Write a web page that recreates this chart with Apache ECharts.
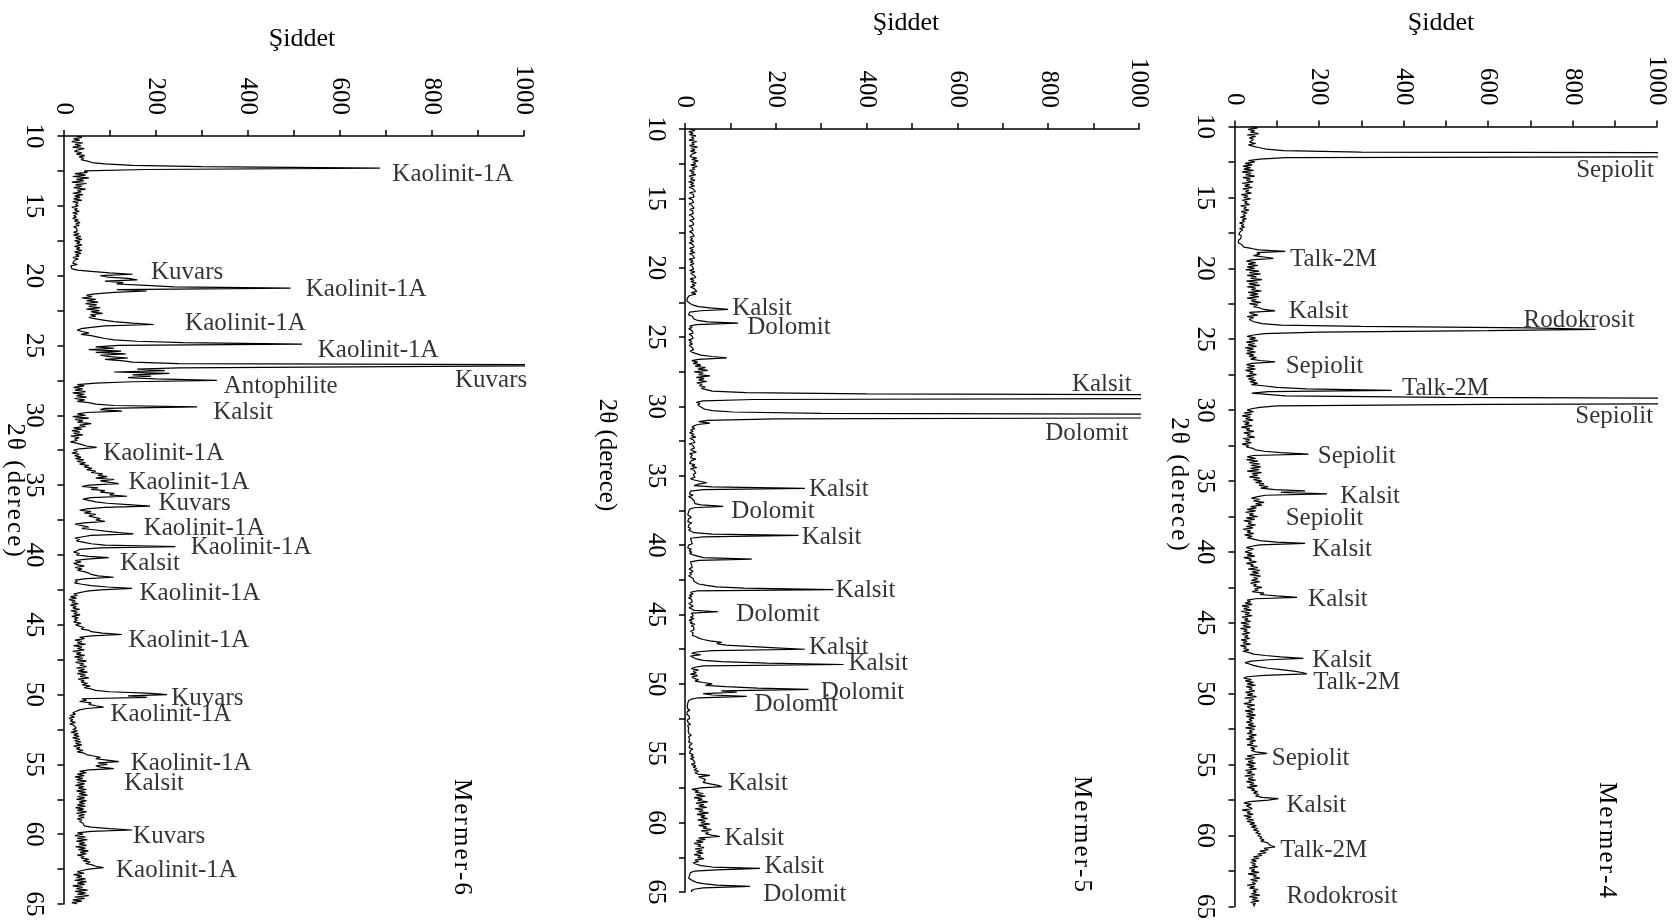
<!DOCTYPE html>
<html>
<head>
<meta charset="utf-8">
<title>Mermer XRD desenleri</title>
<script src="https://cdn.jsdelivr.net/npm/echarts@6.0.0/dist/echarts.min.js"></script>
<style>
  html, body { margin: 0; padding: 0; background: #fff; }
  #chart { width: 1675px; height: 922px; }
</style>
</head>
<body>
<div id="chart"></div>
<script>
// Scan grid shared by all three samples: 2θ from 10° to 65° in 0.1° steps.
const SCAN_START = 10;
const SCAN_STEP = 0.1;

// Counts per scan step, one row per degree (10.0–10.9, 11.0–11.9, ... , 65.0).
const mermer6 = [
  28,40,22,35,18,42,25,38,20,45,
  30,24,40,28,46,34,44,38,52,62,
  90,150,300,687,180,45,52,25,48,20,
  55,28,44,18,50,26,40,22,48,30,
  38,20,42,24,36,22,40,20,32,26,
  32,18,30,24,34,20,30,22,28,20,
  32,24,36,26,34,22,28,24,30,22,
  34,22,38,26,40,24,36,28,40,24,
  36,28,40,24,38,26,34,20,32,24,
  28,20,30,16,14,18,30,60,100,150,
  80,95,140,160,90,130,115,180,240,493,
  116,181,110,69,50,62,40,70,50,75,
  48,72,55,80,50,78,60,85,58,70,
  55,70,90,110,150,196,90,60,38,30,
  40,55,38,60,75,90,110,160,260,518,
  120,70,110,55,125,70,135,80,100,140,
  90,130,150,250,1300,1300,250,160,220,110,
  230,150,190,140,200,333,150,70,30,45,
  22,42,25,48,20,45,28,50,24,46,
  30,55,70,110,290,90,80,127,50,30,
  48,20,55,25,42,30,60,35,48,22,
  40,18,36,22,42,16,34,24,30,15,
  28,40,50,72,35,22,30,18,34,24,
  38,26,44,30,48,35,55,45,62,50,
  70,60,85,75,95,70,110,80,100,120,
  55,40,75,60,90,80,110,100,138,60,
  42,55,70,95,140,188,90,50,35,60,
  45,70,55,65,80,70,90,45,25,40,
  55,40,65,90,120,152,60,42,25,35,
  28,45,60,90,243,80,35,30,22,35,
  28,55,98,50,25,38,22,30,45,25,
  40,30,45,55,60,75,109,50,25,30,
  24,40,60,95,149,80,50,35,22,30,
  15,28,12,26,18,32,15,28,20,35,
  16,30,22,36,18,32,24,30,22,38,
  26,34,45,38,55,60,85,127,60,35,
  45,25,40,30,48,22,40,30,45,20,
  38,28,46,24,42,30,50,26,44,35,
  50,28,46,32,52,30,48,36,55,32,
  45,38,52,40,58,45,60,70,100,181,
  225,140,181,40,50,35,60,55,70,87,
  50,35,28,20,26,14,24,12,20,15,
  26,14,22,18,28,20,30,16,32,22,
  34,20,36,24,38,26,40,22,36,28,
  42,30,45,50,65,80,70,95,120,75,
  95,70,80,109,55,35,50,30,45,25,
  42,28,50,30,46,26,44,32,50,28,
  48,34,52,30,46,28,50,34,46,30,
  48,26,44,30,50,28,46,32,45,30,
  40,35,42,38,45,60,100,149,60,30,
  42,25,48,30,52,28,46,34,50,26,
  48,32,54,36,50,30,45,38,55,42,
  58,48,62,70,87,55,40,30,45,22,
  40,28,48,24,50,30,46,20,42,28,
  52,25,48,30,55,24,46,20,40,18,
  30
];

const mermer5 = [
  12,22,8,18,10,24,14,20,9,26,
  15,21,10,28,14,22,12,25,16,20,
  11,26,15,29,18,24,13,27,16,22,
  10,20,14,24,9,18,12,22,8,19,
  12,21,9,17,13,23,10,18,14,20,
  8,16,12,19,9,15,11,20,10,17,
  13,18,9,16,12,20,10,17,14,19,
  9,15,12,18,10,16,13,20,11,17,
  12,19,9,16,14,20,10,18,12,22,
  10,17,13,21,9,18,12,20,11,16,
  14,19,10,22,12,18,15,24,11,20,
  13,25,16,22,12,20,18,26,14,24,
  10,6,5,7,4,8,12,18,30,55,
  95,35,10,14,8,16,12,20,28,50,
  117,25,10,16,8,14,11,18,9,15,
  12,18,8,15,10,17,9,14,12,19,
  11,16,20,35,60,92,30,15,28,18,
  35,22,45,28,50,20,40,30,55,25,
  42,30,48,26,38,32,45,36,40,60,
  135,400,1800,2500,1500,150,40,25,33,28,
  30,38,44,60,106,300,1700,2200,1400,200,
  50,30,55,28,20,15,22,12,18,10,
  20,14,24,11,18,15,22,9,17,13,
  21,12,18,25,10,16,20,12,24,14,
  18,10,22,15,26,12,20,16,24,18,
  15,22,12,20,18,48,30,20,60,264,
  40,12,15,10,18,8,14,12,20,18,
  22,35,84,20,10,14,8,12,6,10,
  14,8,12,6,15,9,11,7,13,8,
  12,20,60,250,40,12,8,14,10,16,
  8,12,6,14,9,15,10,18,14,40,
  147,30,12,8,14,10,16,9,12,18,
  10,15,8,12,18,14,20,25,30,48,
  70,130,327,25,12,18,10,15,8,14,
  10,16,8,13,18,9,15,20,73,14,
  10,18,12,20,9,16,11,22,14,19,
  15,20,12,18,22,16,25,30,40,55,
  81,70,90,140,200,264,60,25,15,35,
  12,18,25,40,80,180,349,40,22,14,
  30,18,25,12,28,15,20,30,22,40,
  60,45,90,160,272,80,114,40,60,136,
  30,14,8,12,6,10,5,9,6,11,
  5,8,4,9,6,10,5,8,7,12,
  6,10,8,12,7,11,9,14,8,12,
  10,14,8,16,11,15,9,17,12,16,
  10,18,13,20,12,19,15,22,14,24,
  18,26,20,30,22,28,55,30,38,45,
  45,40,55,70,81,35,15,30,22,40,
  25,45,20,38,28,50,24,42,30,48,
  22,40,30,52,26,44,35,50,28,45,
  35,55,30,48,40,58,36,52,45,59,
  77,30,45,25,40,20,35,28,42,22,
  38,25,40,20,35,28,42,22,30,18,
  25,35,60,165,70,20,12,16,10,14,
  8,12,18,25,40,70,143,40,20,14,
  15
];

const mermer4 = [
  40,55,32,48,38,57,30,50,35,45,
  42,36,50,33,45,60,75,116,300,1800,
  2500,1600,120,60,33,48,25,42,20,38,
  22,45,18,40,26,48,20,38,28,44,
  18,36,24,42,20,34,26,40,16,32,
  22,38,18,30,24,36,15,28,22,34,
  16,30,20,26,14,28,18,24,12,22,
  16,24,12,20,14,18,10,16,12,15,
  10,14,9,16,12,22,40,57,120,53,
  60,45,70,92,40,28,50,32,55,30,
  48,26,58,35,62,30,52,38,65,28,
  55,34,60,30,50,40,64,32,56,36,
  58,30,52,40,62,35,55,45,60,70,
  96,35,40,55,30,45,35,40,50,65,
  110,300,700,855,600,200,70,45,30,50,
  35,55,28,48,32,52,25,45,30,50,
  28,46,34,52,38,60,96,40,28,48,
  30,50,26,44,35,52,28,46,33,50,
  36,55,40,73,100,170,372,80,41,45,
  120,500,1500,2500,2400,1600,600,100,60,40,
  30,45,22,40,18,38,26,44,20,35,
  24,42,16,36,28,46,22,38,30,48,
  20,36,26,40,18,34,28,44,50,70,
  110,175,45,30,50,28,55,35,60,40,
  62,38,58,30,64,42,55,35,60,45,
  65,50,70,58,80,62,95,167,110,219,
  73,55,40,60,45,70,50,65,38,52,
  30,50,26,45,35,55,28,48,22,40,
  32,50,28,44,20,38,30,46,24,42,
  30,45,60,100,167,60,40,28,45,35,
  25,42,30,48,22,40,35,52,28,45,
  38,55,32,60,42,58,36,62,45,55,
  40,60,38,52,45,65,48,56,42,70,
  60,100,148,50,30,38,25,42,18,35,
  22,40,16,36,25,42,18,32,24,38,
  15,34,20,38,14,30,22,36,18,32,
  24,36,16,30,20,38,14,28,22,34,
  20,35,45,73,110,163,80,40,25,35,
  45,60,80,110,140,160,171,70,30,22,
  40,25,45,30,50,28,42,35,48,26,
  44,30,52,24,46,34,40,22,48,30,
  36,48,25,44,30,50,28,46,34,42,
  28,45,32,50,26,48,35,42,30,52,
  34,46,28,50,36,44,30,54,38,48,
  40,50,77,45,30,48,25,44,32,50,
  28,46,34,52,26,42,30,48,24,44,
  32,50,28,46,36,54,30,48,40,55,
  45,58,50,65,104,80,35,22,40,28,
  25,42,18,38,30,44,22,40,28,46,
  30,48,36,52,40,55,45,58,50,62,
  55,65,60,70,62,78,75,85,96,70,
  80,60,75,55,65,45,58,40,52,38,
  50,42,55,35,48,40,58,32,52,45,
  60,38,55,42,50,30,48,36,56,44,
  52,40,60,35,55,42,58,38,50,44,
  48
];

// Phase names with the 2θ and intensity where each name is written.
const mermer6Phases = [
  ['Kaolinit-1A', 12.72, 713],
  ['Kuvars', 19.77, 189],
  ['Kaolinit-1A', 21.0, 525],
  ['Kaolinit-1A', 23.45, 263],
  ['Kaolinit-1A', 25.36, 551],
  ['Kuvars', 27.5, 1008],
  ['Antophilite', 27.96, 347],
  ['Kalsit', 29.8, 324],
  ['Kaolinit-1A', 32.7, 85],
  ['Kaolinit-1A', 34.84, 140],
  ['Kuvars', 36.3, 205],
  ['Kaolinit-1A', 38.14, 173],
  ['Kaolinit-1A', 39.43, 275],
  ['Kalsit', 40.59, 122],
  ['Kaolinit-1A', 42.73, 164],
  ['Kaolinit-1A', 46.09, 140],
  ['Kuvars', 50.3, 233],
  ['Kaolinit-1A', 51.45, 101],
  ['Kaolinit-1A', 54.9, 145],
  ['Kalsit', 56.35, 131],
  ['Kuvars', 60.17, 150],
  ['Kaolinit-1A', 62.62, 113]
];

const mermer5Phases = [
  ['Kalsit', 22.93, 103],
  ['Dolomit', 24.32, 136],
  ['Kalsit', 28.4, 985],
  ['Dolomit', 31.95, 978],
  ['Kalsit', 35.95, 272],
  ['Dolomit', 37.57, 101],
  ['Kalsit', 39.42, 256],
  ['Kalsit', 43.27, 331],
  ['Dolomit', 44.96, 112],
  ['Kalsit', 47.35, 272],
  ['Kalsit', 48.51, 359],
  ['Dolomit', 50.58, 298],
  ['Dolomit', 51.5, 152],
  ['Kalsit', 57.2, 94],
  ['Kalsit', 61.13, 86],
  ['Kalsit', 63.14, 174],
  ['Dolomit', 65.14, 171]
];

const mermer4Phases = [
  ['Sepiolit', 13.13, 994],
  ['Talk-2M', 19.37, 130],
  ['Kalsit', 23.06, 127],
  ['Rodokrosit', 23.66, 683],
  ['Sepiolit', 26.9, 120],
  ['Talk-2M', 28.47, 395],
  ['Sepiolit', 30.43, 992],
  ['Sepiolit', 33.29, 196],
  ['Kalsit', 36.07, 249],
  ['Sepiolit', 37.65, 120],
  ['Kalsit', 39.83, 183],
  ['Kalsit', 43.37, 173],
  ['Kalsit', 47.65, 183],
  ['Talk-2M', 49.23, 185],
  ['Sepiolit', 54.58, 87],
  ['Kalsit', 57.89, 122],
  ['Talk-2M', 61.05, 107],
  ['Rodokrosit', 64.28, 122]
];

const intensityTicks = [0, 200, 400, 600, 800, 1000];
const intensityTitle = 'Şiddet';
const angleTitle = '2θ (derece)';
const sampleNames = ['Mermer-6', 'Mermer-5', 'Mermer-4'];

// ---- layout of the three side-by-side panels ----
const SERIF = '"Liberation Serif", "Times New Roman", serif';
const panels = [
  { counts: mermer6, phases: mermer6Phases, grid: { left: 63.5, top: 136, width: 460.5, height: 768 },
    title: [302, 39.5], axisName: [15, 490], spacedAxisName: true, sample: [462, 837] },
  { counts: mermer5, phases: mermer5Phases, grid: { left: 685, top: 129, width: 454, height: 763 },
    title: [906, 23.5], axisName: [607, 455], spacedAxisName: false, sample: [1082, 834] },
  { counts: mermer4, phases: mermer4Phases, grid: { left: 1234.5, top: 126.5, width: 422.5, height: 781.5 },
    title: [1441, 23.5], axisName: [1179, 484], spacedAxisName: true, sample: [1607, 840] }
];
const TICK_LABEL_GAP = 21;

const HAIR = '\u200A';
const spaced = s => Array.from(s).join(HAIR);

const toPoints = counts => counts.map((c, i) => [c, +(SCAN_START + i * SCAN_STEP).toFixed(2)]);

const axisLineStyle = { color: '#000', width: 1.5 };
const tickStyle = { color: '#000', width: 1.5 };

const option = {
  animation: false,
  backgroundColor: '#fff',
  grid: panels.map(p => Object.assign({ containLabel: false }, p.grid)),
  xAxis: panels.map((p, i) => ({
    type: 'value', gridIndex: i, position: 'top',
    min: 0, max: 1000, interval: 200,
    axisLine: { show: true, onZero: false, lineStyle: axisLineStyle },
    axisTick: { show: true, inside: false, length: 6, lineStyle: tickStyle },
    minorTick: { show: true, splitNumber: 2, length: 6, lineStyle: tickStyle },
    splitLine: { show: false },
    minorSplitLine: { show: false },
    axisLabel: { show: false }
  })),
  yAxis: panels.map((p, i) => ({
    type: 'value', gridIndex: i, position: 'left', inverse: true,
    min: 10, max: 65, interval: 5,
    axisLine: { show: true, onZero: false, lineStyle: axisLineStyle },
    axisTick: { show: true, inside: false, length: 6, lineStyle: tickStyle },
    minorTick: { show: true, splitNumber: 2, length: 6, lineStyle: tickStyle },
    splitLine: { show: false },
    minorSplitLine: { show: false },
    axisLabel: {
      rotate: -90, align: 'center', verticalAlign: 'top', margin: 17,
      fontFamily: SERIF, fontSize: 25, color: '#000'
    }
  })),
  series: [],
  graphic: []
};

panels.forEach((p, i) => {
  // diffraction trace
  option.series.push({
    type: 'line', xAxisIndex: i, yAxisIndex: i,
    data: toPoints(p.counts),
    showSymbol: false, symbol: 'none', clip: true, silent: true,
    lineStyle: { color: '#000', width: 1.2 }
  });
  // phase identifications
  option.series.push({
    type: 'scatter', xAxisIndex: i, yAxisIndex: i,
    clip: false, silent: true, symbolSize: 1,
    itemStyle: { color: 'rgba(0,0,0,0)' },
    data: p.phases.map(([name, angle, at]) => ({
      name, value: [at, angle],
      label: { position: at > 900 ? 'left' : 'right' }
    })),
    label: {
      show: true, formatter: '{b}', distance: 0,
      fontFamily: SERIF, fontSize: 25, color: '#000'
    }
  });
  // panel texts
  option.graphic.push({
    type: 'text', x: p.title[0], y: p.title[1], silent: true,
    style: { text: intensityTitle, font: '26px ' + SERIF, fill: '#000', align: 'center', verticalAlign: 'middle' }
  });
  option.graphic.push({
    type: 'text', x: p.axisName[0], y: p.axisName[1], rotation: -Math.PI / 2, silent: true,
    style: {
      text: p.spacedAxisName ? spaced(angleTitle) : angleTitle,
      font: '25px ' + SERIF, fill: '#000', align: 'center', verticalAlign: 'middle'
    }
  });
  option.graphic.push({
    type: 'text', x: p.sample[0], y: p.sample[1], rotation: -Math.PI / 2, silent: true,
    style: { text: spaced(sampleNames[i]), font: '25px ' + SERIF, fill: '#000', align: 'center', verticalAlign: 'middle' }
  });
});

const chart = echarts.init(document.getElementById('chart'), null, { renderer: 'canvas' });
chart.setOption(option);

// Intensity tick labels: vertical text ending just above the top axis,
// placed at each tick through the axis scale.
const tickLabels = [];
panels.forEach((p, i) => {
  intensityTicks.forEach(v => {
    const px = chart.convertToPixel({ xAxisIndex: i }, v);
    tickLabels.push({
      type: 'text', x: px, y: p.grid.top - TICK_LABEL_GAP, rotation: -Math.PI / 2, silent: true,
      style: { text: String(v), font: '25px ' + SERIF, fill: '#000', align: 'right', verticalAlign: 'middle' }
    });
  });
});
chart.setOption({ graphic: option.graphic.concat(tickLabels) });
</script>
</body>
</html>
